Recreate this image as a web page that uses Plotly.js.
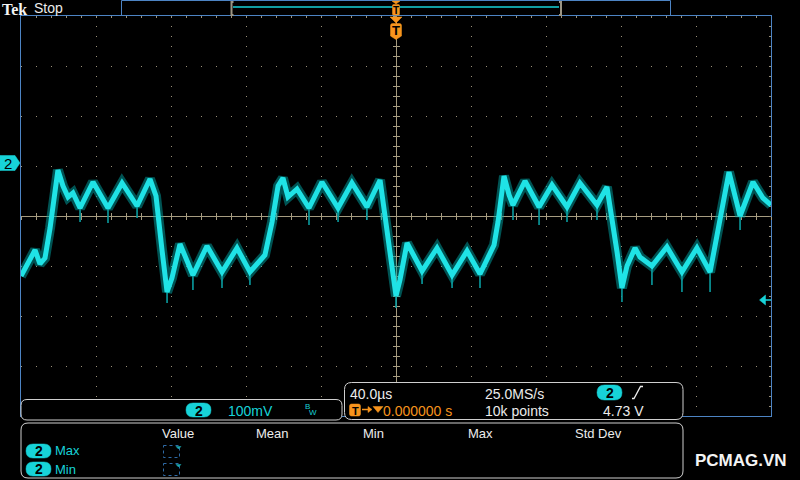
<!DOCTYPE html>
<html><head><meta charset="utf-8">
<script src="https://cdn.plot.ly/plotly-3.0.1.min.js"></script>
<style>html,body{margin:0;padding:0;background:#000;overflow:hidden}#chart{width:800px;height:480px}</style>
</head><body><div id="chart"></div>
<script>
// Waveform vertices: time (µs), voltage (mV)
const timeUs = [-200.0,-196.3,-192.5,-189.9,-187.2,-184.5,-182.4,-180.3,-177.6,-174.9,-172.3,-168.5,-161.6,-153.6,-146.1,-138.1,-131.2,-128.0,-124.8,-122.1,-119.5,-115.2,-108.3,-100.8,-92.8,-84.8,-77.9,-74.1,-69.9,-66.1,-62.9,-60.3,-57.6,-52.8,-46.4,-39.5,-30.9,-23.5,-15.5,-8.5,-5.9,-2.7,0,2.1,5.9,13.9,21.9,29.9,37.9,44.8,49.1,52.3,54.4,56.0,57.6,60.3,62.4,68.8,76.3,83.2,91.2,98.1,107.2,112.5,115.2,117.9,120.5,123.2,127.5,130.1,136.5,144.5,152.5,160.5,167.5,170.7,173.3,177.6,183.5,190.4,195.7,200.0];
const voltMv = [-120,-92,-68,-96,-84,-24,42,92,60,38,46,16,68,16,66,20,74,40,-68,-152,-124,-56,-118,-60,-112,-64,-112,-96,-78,-12,60,76,38,54,16,68,16,66,18,72,2,-92,-160,-128,-54,-110,-64,-118,-70,-116,-84,-58,-12,32,80,42,22,70,18,62,18,66,22,58,-4,-72,-144,-100,-64,-82,-100,-62,-112,-64,-112,-48,8,88,0,68,36,22];
// narrow downward glitches at the ripple valleys
const spikeTimeUs = [-168.5,-153.6,-138.1,-122.1,-108.3,-92.8,-77.9,-46.4,-30.9,-15.5,0,13.9,29.9,44.8,62.4,76.3,91.2,107.2,120.5,136.5,152.5,167.5,183.5];
const spikeTopMv = [16,16,20,-152,-118,-112,-112,16,16,18,-160,-110,-118,-116,22,18,18,22,-144,-100,-112,-112,0];
const spikeBottomMv = [-12,-14,-4,-174,-148,-144,-138,-18,-12,-8,-184,-136,-144,-144,-8,-18,-12,-8,-172,-138,-152,-152,-28];

const timePerDivUs = 40, voltPerDivMv = 100, hDivs = 10, vDivs = 8;
const headerLogo = 'Tek', headerState = 'Stop';
const channelName = '2', channelScale = '100mV';
const horizScale = '40.0µs', sampleRate = '25.0MS/s', recordLength = '10k points';
const triggerDelay = '0.000000 s', triggerLevel = '4.73 V';
const measHeaders = ['Value','Mean','Min','Max','Std Dev'];
const measRows = ['Max','Min'];
const watermark = 'PCMAG.VN';

// ---- pixel -> paper helpers (plot area 21..771 x 16..416)
const L=21, T=16, W=750, H=400;
const X = p => (p-L)/W, Y = p => (T+H-p)/H;
function path(pts){
  return pts.map(s => s[0] + s.slice(1).reduce((a,v,i)=>a+(i? (i%2? ',':' '):'')+(i%2? Y(v):X(v)),'')).join(' ');
}
function rr(x0,y0,x1,y1,r){
  return path([['M',x0+r,y0],['L',x1-r,y0],['Q',x1,y0,x1,y0+r],['L',x1,y1-r],['Q',x1,y1,x1-r,y1],['L',x0+r,y1],['Q',x0,y1,x0,y1-r],['L',x0,y0+r],['Q',x0,y0,x0+r,y0]])+' Z';
}
const CY='#17d3d8', OR='#f7941d', WH='#ececec', BL='#4d84c4', GR='#9a907a', CL='#a69c80';
const shapes=[], ann=[];
function shp(d, fill, color, width, dash){ shapes.push({type:'path', xref:'paper', yref:'paper', path:d, fillcolor:fill||'rgba(0,0,0,0)', line:{color:color||'rgba(0,0,0,0)', width:width===undefined?1:width, dash:dash||'solid'}, layer:'above'}); }
function txt(t, px, py, size, color, anchor, family, yanchor){ ann.push({text:t, x:X(px), y:Y(py), xref:'paper', yref:'paper', showarrow:false, xanchor:anchor||'left', yanchor:yanchor||'middle', font:{size:size, color:color, family:family||'Liberation Sans, Arial, sans-serif'}, borderpad:0}); }

// top record bar
shp(path([['M',121.5,16],['L',121.5,0.5],['L',670.5,0.5],['L',670.5,16]]), null, BL, 1);
shp(path([['M',233.5,2],['L',231.5,2],['L',231.5,15],['L',233.5,15]]), null, '#9b9584', 2);
shp(path([['M',559,2],['L',561,2],['L',561,15],['L',559,15]]), null, '#9b9584', 2);
shp(path([['M',233,7],['L',559,7]]), null, CY, 1.5);
// small trigger marker in bar
shp(path([['M',392,1],['L',400,1],['L',396,4]])+' Z', OR, OR, 0.5);
shp(rr(392.5,4.5,399.5,15,1), OR, OR, 0.5);
txt('<b>T</b>', 396, 10, 10, '#000', 'center');
// big trigger marker
shp(path([['M',390,17],['L',402,17],['L',396,23]])+' Z', OR, OR, 0.5);
shp(path([['M',390.5,25.5],['Q',390.5,23.5,392.5,23.5],['L',399.5,23.5],['Q',401.5,23.5,401.5,25.5],['L',401.5,36],['L',396,39.5],['L',390.5,36]])+' Z', OR, OR, 0.5);
txt('<b>T</b>', 396, 30.5, 13, '#000', 'center');
// channel ground marker
shp(path([['M',0,155.5],['L',15,155.5],['L',20,163],['L',15,170.5],['L',0,170.5]])+' Z', CY, CY, 0.5);
txt(channelName, 8, 163.5, 15, '#000', 'center');
// trigger level arrow
shp(path([['M',759.5,300],['L',765.5,295],['L',765.5,305]])+' Z', CY, CY, 0.5);
shp(path([['M',765,300],['L',771,300]]), null, CY, 1.5);

// channel box
shp(rr(21,399.5,342,420,6), '#000', '#cfcfcf', 1);
shp(rr(186,403,211,417,7), CY, CY, 0.5);
txt('<b>'+channelName+'</b>', 198.5, 410.5, 14, '#000', 'center');
txt(channelScale, 227, 410.5, 14, CY);
txt('B', 304, 406.5, 8, CY);
txt('W', 307.5, 412.5, 8, CY);

// timebase box
shp(rr(344.5,382.5,683,419.5,7), '#000', '#cfcfcf', 1);
txt(horizScale, 349, 393.5, 14, WH);
txt(sampleRate, 484, 393.5, 14, WH);
shp(rr(597,385,622,400,7.5), CY, CY, 0.5);
txt('<b>'+channelName+'</b>', 609.5, 392.8, 14, '#000', 'center');
shp(path([['M',632,398.5],['L',634,398.5],['L',640.5,386.5],['L',643,386.5]]), null, WH, 1.3);
shp(rr(349.5,404,360.5,416,2), OR, OR, 0.5);
txt('<b>T</b>', 355, 410.5, 11, '#000', 'center');
shp(path([['M',362,409.5],['L',369,409.5]]), null, OR, 1.5);
shp(path([['M',368,406.5],['L',372,409.5],['L',368,412.5]])+' Z', OR, OR, 0.5);
shp(path([['M',373,406.5],['L',383,406.5],['L',378,412.5]])+' Z', OR, OR, 0.5);
txt(triggerDelay, 382, 411, 14, OR);
txt(recordLength, 484, 411, 14, WH);
txt(triggerLevel, 602, 411, 14, WH);

// measurement box
shp(rr(21,423,683,478,7), '#000', '#cfcfcf', 1);
const headerX = [161, 255, 362, 467, 574];
measHeaders.forEach((h,i)=>txt(h, headerX[i], 433.5, 13, WH));
measRows.forEach((r,i)=>{
  const cy = 451 + i*18;
  shp(rr(26,cy-7,51,cy+7,7), CY, CY, 0.5);
  txt('<b>'+channelName+'</b>', 38.5, cy+0.3, 14, '#000', 'center');
  txt(r, 54, cy, 13, CY);
  shp(path([['M',163.5,cy-5.5],['L',179.5,cy-5.5],['L',179.5,cy+6.5],['L',163.5,cy+6.5]])+' Z', null, '#2e6aa6', 1, 'dot');
  shp(path([['M',176,cy-4.5],['L',181,cy-4.5],['L',178.5,cy-2]])+' Z', '#1aa8b0', '#1aa8b0', 0.5);
});
txt('<b>'+watermark+'</b>', 694, 460.5, 17, '#f4f4f4', 'left', 'Liberation Sans, Arial, sans-serif');
txt('<b>'+headerLogo+'</b>', 0.5, 0, 16, '#f4f4f4', 'left', 'Liberation Serif, serif', 'top');
txt(headerState, 33, 8.5, 14, WH);

// spike segments
const sx=[], sy=[];
spikeTimeUs.forEach((t,i)=>{ sx.push(t,t,null); sy.push(spikeTopMv[i], spikeBottomMv[i], null); });

const xr=[-timePerDivUs*hDivs/2, timePerDivUs*hDivs/2], yr=[-voltPerDivMv*vDivs/2, voltPerDivMv*vDivs/2];
const traces=[
  {x:timeUs, y:voltMv, mode:'lines', line:{color:'rgba(0,165,165,0.5)', width:10}, xaxis:'x', yaxis:'y', hoverinfo:'skip'},
  {x:sx, y:sy, mode:'lines', line:{color:'#0a9da0', width:1.6}, xaxis:'x2', yaxis:'y2', hoverinfo:'skip', connectgaps:false},
  {x:timeUs, y:voltMv, mode:'lines', line:{color:'#1fe3e6', width:5}, xaxis:'x3', yaxis:'y3', hoverinfo:'skip'}
];
function centerAx(base, dt, ticks, over){
  return {overlaying:over, anchor:'free', position:0.5, range:base, dtick:dt, tick0:0, ticks:ticks, ticklen:3, tickcolor:CL, tickwidth:1, showgrid:false, zeroline:false, showline:false, showticklabels:false, fixedrange:true, layer:'below traces'};
}
const layout={
  width:800, height:480, margin:{l:L, r:800-L-W, t:T, b:480-T-H, pad:0},
  paper_bgcolor:'#000', plot_bgcolor:'#000', showlegend:false,
  xaxis:{range:xr, dtick:timePerDivUs, tick0:0, showgrid:true, gridcolor:GR, griddash:'1px,9px', gridwidth:1,
    zeroline:true, zerolinecolor:CL, zerolinewidth:1, showline:true, mirror:true, linecolor:BL, linewidth:1,
    side:'top', ticks:'inside', ticklen:2, tickcolor:GR, minor:{dtick:timePerDivUs/5, ticks:'inside', ticklen:2, tickcolor:GR, showgrid:false},
    showticklabels:false, fixedrange:true, layer:'below traces'},
  yaxis:{range:yr, dtick:voltPerDivMv, tick0:0, showgrid:true, gridcolor:GR, griddash:'1px,14px', gridwidth:1,
    zeroline:true, zerolinecolor:CL, zerolinewidth:1, showline:true, mirror:true, linecolor:BL, linewidth:1,
    side:'right', ticks:'inside', ticklen:2, tickcolor:GR, minor:{dtick:voltPerDivMv/5, ticks:'inside', ticklen:2, tickcolor:GR, showgrid:false},
    showticklabels:false, fixedrange:true, layer:'below traces'},
  xaxis2:centerAx(xr, timePerDivUs/5, 'outside', 'x'),
  xaxis3:centerAx(xr, timePerDivUs/5, 'inside', 'x'),
  yaxis2:centerAx(yr, voltPerDivMv/5, 'outside', 'y'),
  yaxis3:centerAx(yr, voltPerDivMv/5, 'inside', 'y'),
  shapes:shapes, annotations:ann
};
Plotly.newPlot('chart', traces, layout, {staticPlot:true, displayModeBar:false});
</script></body></html>
